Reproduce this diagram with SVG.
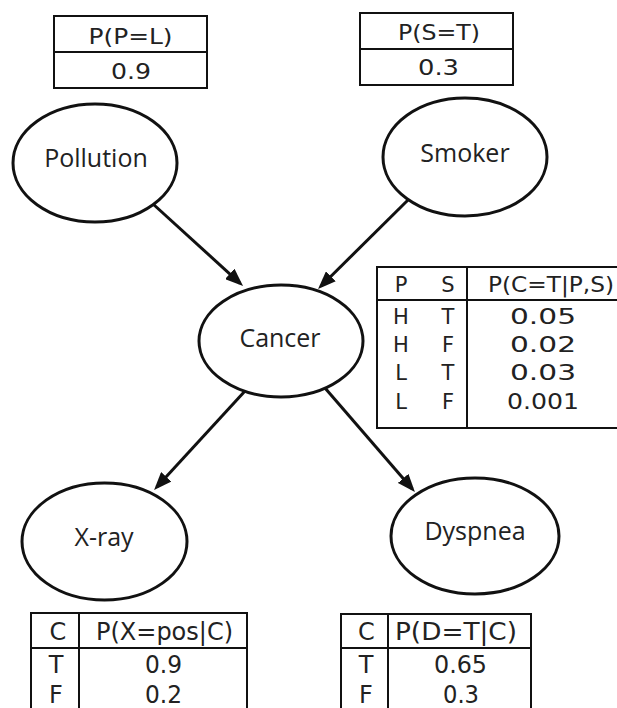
<svg xmlns="http://www.w3.org/2000/svg" width="617" height="708" viewBox="0 0 617 708">
  <style>
    .node { fill: #ffffff; stroke: #111111; stroke-width: 3; }
    .label { font-family: "Open Sans", "Noto Sans", sans-serif; font-size: 25px; fill: #222222; text-anchor: middle; }
    .cpt { fill: #ffffff; stroke: #111111; stroke-width: 2; }
    .rule { stroke: #111111; stroke-width: 2; fill: none; }
    .cell { font-family: "DejaVu Sans", "Liberation Sans", sans-serif; font-size: 22px; fill: #222222; text-anchor: middle; }
    .sm { font-size: 21px; }
    .lg { font-size: 24px; }
    .edge { stroke: #111111; stroke-width: 3; fill: none; marker-end: url(#arrow); }
  </style>
  <defs>
    <marker id="arrow" markerUnits="userSpaceOnUse" markerWidth="18" markerHeight="14" refX="14" refY="7" orient="auto">
      <path d="M0,0 L18,7 L0,14 z" fill="#111111"/>
    </marker>
  </defs>
  <rect width="617" height="708" fill="#ffffff"/>

  <!-- edges -->
  <g id="edges">
    <line class="edge" x1="153" y1="204" x2="240.1" y2="283.3"/>
    <line class="edge" x1="408" y1="200" x2="320.9" y2="286.2"/>
    <line class="edge" x1="245" y1="391" x2="156.8" y2="487.1"/>
    <line class="edge" x1="325" y1="388" x2="412.3" y2="489.0"/>
  </g>

  <!-- Pollution with its prior -->
  <g id="pollution">
    <rect class="cpt" x="54" y="16" width="153" height="72"/>
    <line class="rule" x1="54" y1="52" x2="207" y2="52"/>
    <text class="cell" x="130.5" y="44" textLength="84" lengthAdjust="spacingAndGlyphs">P(P=L)</text>
    <text class="cell" x="131" y="79" textLength="40" lengthAdjust="spacingAndGlyphs">0.9</text>
    <ellipse class="node" cx="95" cy="163" rx="82" ry="59"/>
    <text class="label" x="96" y="167">Pollution</text>
  </g>

  <!-- Smoker with its prior -->
  <g id="smoker">
    <rect class="cpt" x="360" y="13" width="153" height="72"/>
    <line class="rule" x1="360" y1="49" x2="513" y2="49"/>
    <text class="cell" x="439" y="40" textLength="82" lengthAdjust="spacingAndGlyphs">P(S=T)</text>
    <text class="cell" x="438.5" y="75" textLength="41" lengthAdjust="spacingAndGlyphs">0.3</text>
    <ellipse class="node" cx="465" cy="157" rx="82" ry="59"/>
    <text class="label" x="465" y="162">Smoker</text>
  </g>

  <!-- Cancer with its conditional table -->
  <g id="cancer">
    <ellipse class="node" cx="281" cy="341" rx="82" ry="56"/>
    <text class="label" x="280" y="347">Cancer</text>
    <path class="rule" d="M619,267 H377 V428 H619"/>
    <line class="rule" x1="377" y1="300" x2="619" y2="300"/>
    <line class="rule" x1="467" y1="267" x2="467" y2="428"/>
    <text class="cell sm" x="401" y="292">P</text>
    <text class="cell sm" x="448" y="292">S</text>
    <text class="cell sm" x="488" y="292" style="text-anchor:start" textLength="126" lengthAdjust="spacingAndGlyphs">P(C=T|P,S)</text>
    <text class="cell sm" x="401" y="324">H</text>
    <text class="cell sm" x="448" y="324">T</text>
    <text class="cell sm" x="543" y="324" textLength="66" lengthAdjust="spacingAndGlyphs">0.05</text>
    <text class="cell sm" x="401" y="352">H</text>
    <text class="cell sm" x="448" y="352">F</text>
    <text class="cell sm" x="543" y="352" textLength="66" lengthAdjust="spacingAndGlyphs">0.02</text>
    <text class="cell sm" x="401" y="380">L</text>
    <text class="cell sm" x="448" y="380">T</text>
    <text class="cell sm" x="543" y="380" textLength="66" lengthAdjust="spacingAndGlyphs">0.03</text>
    <text class="cell sm" x="401" y="409">L</text>
    <text class="cell sm" x="448" y="409">F</text>
    <text class="cell sm" x="543" y="409" textLength="72" lengthAdjust="spacingAndGlyphs">0.001</text>
  </g>

  <!-- X-ray with its conditional table -->
  <g id="xray">
    <ellipse class="node" cx="104.5" cy="541.5" rx="82.5" ry="58.5"/>
    <text class="label" x="104" y="546">X-ray</text>
    <path class="rule" d="M31,710 V613 H247 V710"/>
    <line class="rule" x1="31" y1="648" x2="247" y2="648"/>
    <line class="rule" x1="79" y1="613" x2="79" y2="710"/>
    <text class="cell lg" x="58" y="640">C</text>
    <text class="cell lg" x="164.5" y="640" textLength="137" lengthAdjust="spacingAndGlyphs">P(X=pos|C)</text>
    <text class="cell lg" x="56" y="673">T</text>
    <text class="cell lg" x="163.5" y="673" textLength="37" lengthAdjust="spacingAndGlyphs">0.9</text>
    <text class="cell lg" x="56" y="703">F</text>
    <text class="cell lg" x="163.5" y="703" textLength="37" lengthAdjust="spacingAndGlyphs">0.2</text>
  </g>

  <!-- Dyspnea with its conditional table -->
  <g id="dyspnea">
    <ellipse class="node" cx="475" cy="536" rx="84" ry="58"/>
    <text class="label" x="475" y="540">Dyspnea</text>
    <path class="rule" d="M341,710 V614 H531 V710"/>
    <line class="rule" x1="341" y1="648" x2="531" y2="648"/>
    <line class="rule" x1="388" y1="614" x2="388" y2="710"/>
    <text class="cell lg" x="366.5" y="640">C</text>
    <text class="cell lg" x="456" y="640" textLength="122" lengthAdjust="spacingAndGlyphs">P(D=T|C)</text>
    <text class="cell lg" x="366" y="673">T</text>
    <text class="cell lg" x="460.5" y="673" textLength="53" lengthAdjust="spacingAndGlyphs">0.65</text>
    <text class="cell lg" x="366" y="703">F</text>
    <text class="cell lg" x="461" y="703" textLength="36" lengthAdjust="spacingAndGlyphs">0.3</text>
  </g>
</svg>
